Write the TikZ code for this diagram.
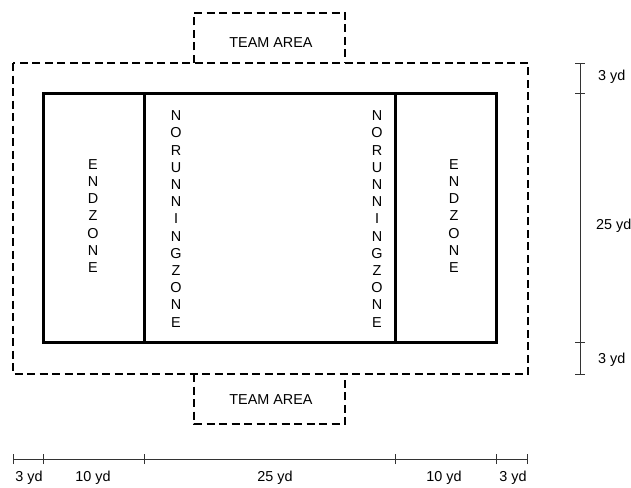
\documentclass[tikz,border=0pt]{standalone}
\usepackage{fontspec}
\setmainfont{Liberation Sans}
\begin{document}
\begin{tikzpicture}[x=1pt,y=-1pt,
  dashbox/.style={line width=1.6pt, dash pattern=on 8pt off 4.5pt},
  fieldline/.style={line width=3pt, line join=miter},
  dimline/.style={line width=0.7pt, black!80},
  lbl/.style={font=\fontsize{14.4}{17.2}\selectfont, inner sep=0pt, align=center}]
\useasboundingbox (0,0) rectangle (631,487);
% dashed outer area and team areas
\draw[dashbox] (13,63) rectangle (528,374);
\draw[dashbox] (194,63) -- (194,13) -- (345,13) -- (345,63);
\draw[dashbox] (194,374) -- (194,424) -- (345,424) -- (345,374);
\node[lbl] (teamtop) at (271,43) {TEAM AREA};
\node[lbl] (teambot) at (271,400) {TEAM AREA};
% field
\draw[fieldline] (43,93) rectangle (496,342);
\draw[fieldline] (144,93) -- (144,342);
\draw[fieldline] (395,93) -- (395,342);
% texts
\node[lbl] (ezl) at (93,216) {E\\N\\D\\Z\\O\\N\\E};
\node[lbl] (ezr) at (454,216) {E\\N\\D\\Z\\O\\N\\E};
\node[lbl] (nrzl) at (176,219) {N\\O\\R\\U\\N\\N\\I\\N\\G\\Z\\O\\N\\E};
\node[lbl] (nrzr) at (377,219) {N\\O\\R\\U\\N\\N\\I\\N\\G\\Z\\O\\N\\E};
% right dimension
\coordinate (r0) at (580,63);
\coordinate (r1) at (580,93);
\coordinate (r2) at (580,342);
\coordinate (r3) at (580,374);
\draw[dimline] (r0) -- (r3);
\foreach \c in {r0,r1,r2,r3} \draw[dimline] ([xshift=-5pt]\c) -- ([xshift=5pt]\c);
\node[lbl, anchor=west] (d3a) at (598,77) {3 yd};
\node[lbl, anchor=west] (d25v) at (596,226) {25 yd};
\node[lbl, anchor=west] (d3b) at (598,360) {3 yd};
% bottom dimension
\coordinate (b0) at (13,459);
\coordinate (b1) at (43,459);
\coordinate (b2) at (144,459);
\coordinate (b3) at (395,459);
\coordinate (b4) at (496,459);
\coordinate (b5) at (527,459);
\draw[dimline] (b0) -- (b5);
\foreach \c in {b0,b1,b2,b3,b4,b5} \draw[dimline] ([yshift=-5pt]\c) -- ([yshift=5pt]\c);
\node[lbl] (h1) at (29,478) {3 yd};
\node[lbl] (h2) at (93,478) {10 yd};
\node[lbl] (h3) at (275,478) {25 yd};
\node[lbl] (h4) at (444,478) {10 yd};
\node[lbl] (h5) at (513,478) {3 yd};
\end{tikzpicture}
\end{document}
